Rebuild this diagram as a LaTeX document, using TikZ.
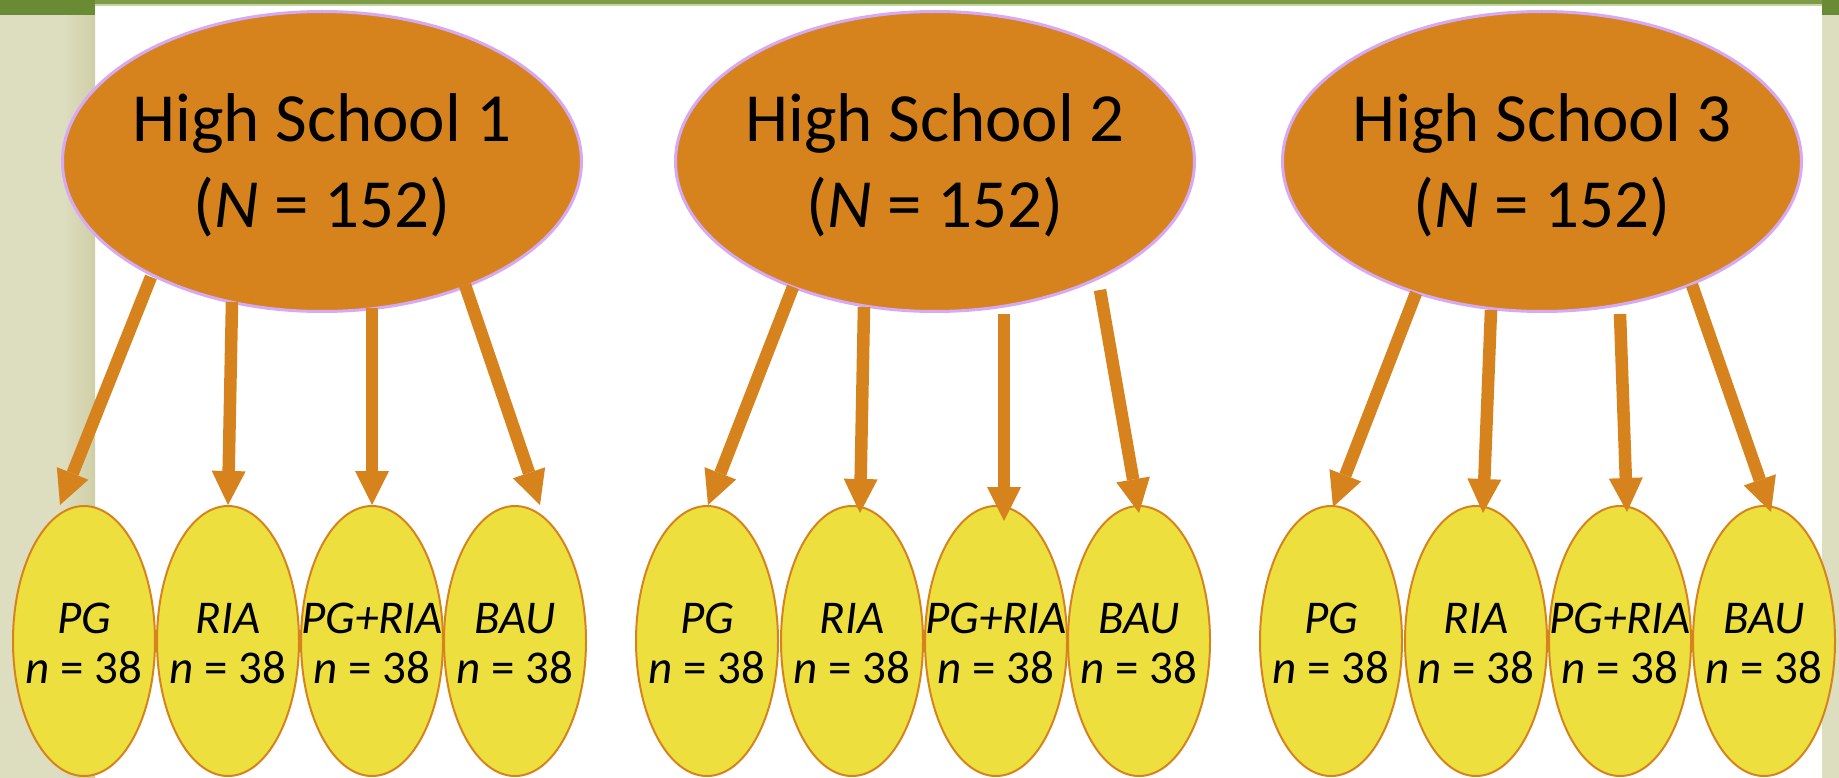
\documentclass[tikz,border=0pt]{standalone}
\usepackage{fontspec}
\setmainfont{Carlito}
\usetikzlibrary{shapes.geometric,arrows.meta,calc}
\definecolor{hsorange}{HTML}{D7831D}
\definecolor{grpyellow}{HTML}{EDDF3D}
\definecolor{lavender}{HTML}{D5A9F5}
\definecolor{beige}{HTML}{DDDDC0}
\definecolor{beigedark}{HTML}{CFCFA6}
\definecolor{bandgreen}{HTML}{7E9B47}
\definecolor{banddark}{HTML}{6A8A34}
\definecolor{bandlight}{HTML}{C5D4A3}
\tikzset{
  bigell/.style={ellipse, draw=lavender, line width=3pt, fill=hsorange, minimum width=519pt, minimum height=300pt, inner sep=0pt, outer sep=0pt},
  grpell/.style={ellipse, draw=hsorange, line width=2pt, fill=grpyellow, minimum width=142pt, minimum height=270pt, inner sep=0pt, outer sep=0pt},
  bigtxt/.style={anchor=base, inner sep=0pt, font=\fontsize{69}{80}\selectfont},
  grptxt/.style={anchor=base, inner sep=0pt, font=\fontsize{47}{54}\selectfont},
  arr/.style={draw=hsorange, line width=12.5pt, -{Triangle[length=34pt,width=34pt,line width=0pt]}},
}
\begin{document}
\begin{tikzpicture}[x=1pt,y=-1pt]
\useasboundingbox (0,0) rectangle (1839,778);
% background
\fill[white] (0,0) rectangle (1839,778);
\fill[beige] (0,0) rectangle (95,778);
\shade[left color=beige, right color=beigedark] (63,0) rectangle (95,778);
\fill[beige] (1822,0) rectangle (1839,778);
\fill[bandgreen] (95,0) rectangle (1822,4.5);
\fill[bandlight] (95,4.5) rectangle (1822,6);
\fill[banddark] (0,0) rectangle (95,15);
\fill[banddark] (1822,0) rectangle (1839,15);

% schools
\node[bigell] (hs1) at (322,161.5) {};
\node[bigell] (hs2) at (935,161.5) {};
\node[bigell] (hs3) at (1542,161.5) {};

% groups
\node[grpell] (g11) at (84,641) {};
\node[grpell] (g12) at (228,641) {};
\node[grpell] (g13) at (372,641) {};
\node[grpell] (g14) at (515,641) {};
\node[grpell] (g21) at (707,641) {};
\node[grpell] (g22) at (852,641) {};
\node[grpell] (g23) at (996,641) {};
\node[grpell] (g24) at (1139,641) {};
\node[grpell] (g31) at (1331,641) {};
\node[grpell] (g32) at (1476,641) {};
\node[grpell] (g33) at (1620,641) {};
\node[grpell] (g34) at (1764,641) {};

% arrows
\draw[arr] ($(hs1.center)+(-171,115.5)$) -- ($(g11.north)+(-24,-1)$);
\draw[arr] ($(hs1.center)+(-90,140.5)$) -- ($(g12.north)+(0,-1)$);
\draw[arr] ($(hs1.center)+(50,146.5)$) -- ($(g13.north)+(0,-1)$);
\draw[arr] ($(hs1.center)+(143,123.5)$) -- ($(g14.north)+(25,-1)$);
\draw[arr] ($(hs2.center)+(-142,125.5)$) -- ($(g21.north)+(1,-1)$);
\draw[arr] ($(hs2.center)+(-71,145.5)$) -- ($(g22.north)+(8,7)$);
\draw[arr] ($(hs2.center)+(69,152.5)$) -- ($(g23.north)+(8,15)$);
\draw[arr] ($(hs2.center)+(165,128.5)$) -- ($(g24.north)+(0,7)$);
\draw[arr] ($(hs3.center)+(-126,131.5)$) -- ($(g31.north)+(2,1)$);
\draw[arr] ($(hs3.center)+(-51,148.5)$) -- ($(g32.north)+(7,7)$);
\draw[arr] ($(hs3.center)+(78,152.5)$) -- ($(g33.north)+(7,6)$);
\draw[arr] ($(hs3.center)+(150,123.5)$) -- ($(g34.north)+(7,6)$);

% school texts
\node[bigtxt] (hs1a) at (322,142) {High School 1};
\node[bigtxt] (hs1b) at (322,228) {(\textit{N} = 152)};
\node[bigtxt] (hs2a) at (935,142) {High School 2};
\node[bigtxt] (hs2b) at (935,228) {(\textit{N} = 152)};
\node[bigtxt] (hs3a) at (1542,142) {High School 3};
\node[bigtxt] (hs3b) at (1542,228) {(\textit{N} = 152)};

% group texts
\node[grptxt] (g11a) at (84,633) {\textit{PG}};
\node[grptxt] (g11b) at (84,683) {\textit{n} = 38};
\node[grptxt] (g12a) at (228,633) {\textit{RIA}};
\node[grptxt] (g12b) at (228,683) {\textit{n} = 38};
\node[grptxt] (g13a) at (372,633) {\textit{PG+RIA}};
\node[grptxt] (g13b) at (372,683) {\textit{n} = 38};
\node[grptxt] (g14a) at (515,633) {\textit{BAU}};
\node[grptxt] (g14b) at (515,683) {\textit{n} = 38};
\node[grptxt] (g21a) at (707,633) {\textit{PG}};
\node[grptxt] (g21b) at (707,683) {\textit{n} = 38};
\node[grptxt] (g22a) at (852,633) {\textit{RIA}};
\node[grptxt] (g22b) at (852,683) {\textit{n} = 38};
\node[grptxt] (g23a) at (996,633) {\textit{PG+RIA}};
\node[grptxt] (g23b) at (996,683) {\textit{n} = 38};
\node[grptxt] (g24a) at (1139,633) {\textit{BAU}};
\node[grptxt] (g24b) at (1139,683) {\textit{n} = 38};
\node[grptxt] (g31a) at (1331,633) {\textit{PG}};
\node[grptxt] (g31b) at (1331,683) {\textit{n} = 38};
\node[grptxt] (g32a) at (1476,633) {\textit{RIA}};
\node[grptxt] (g32b) at (1476,683) {\textit{n} = 38};
\node[grptxt] (g33a) at (1620,633) {\textit{PG+RIA}};
\node[grptxt] (g33b) at (1620,683) {\textit{n} = 38};
\node[grptxt] (g34a) at (1764,633) {\textit{BAU}};
\node[grptxt] (g34b) at (1764,683) {\textit{n} = 38};
\end{tikzpicture}
\end{document}
